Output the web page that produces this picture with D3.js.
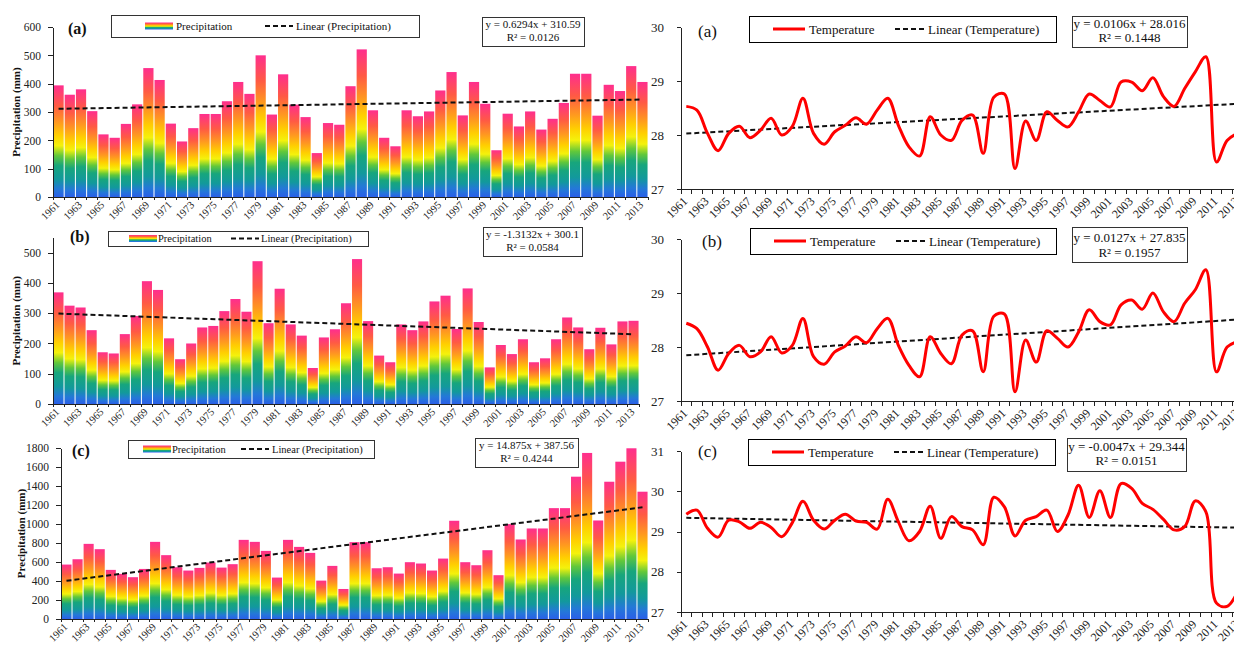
<!DOCTYPE html>
<meta charset="utf-8">
<style>
body { margin: 0; background: #fff; }
svg { display: block; background: #fff; }
text { font-family: "Liberation Serif", "Times New Roman", serif; fill: #111; }
.axis path, .axis line { stroke: #222; shape-rendering: crispEdges; }
.axis text { font-family: "Liberation Serif", "Times New Roman", serif; fill: #222; }
.ytitle { font-weight: bold; font-size: 11px; }
.box { fill: #fff; stroke: #333; stroke-width: 1; shape-rendering: crispEdges; }
.trend { fill: none; stroke: #111; stroke-width: 2; stroke-dasharray: 5,3; }
.temp { fill: none; stroke: #ff0000; stroke-width: 3; }
</style>
<svg width="1234" height="646"></svg>
<script src="https://d3js.org/d3.v7.min.js"></script>
<script>

var years = d3.range(1961, 2014);

// precipitation (mm)
var precipA = [394,361,380,303,221,209,258,327,455,413,259,196,243,293,293,338,406,364,500,291,
               433,326,282,155,261,255,391,521,306,209,179,306,285,302,376,441,288,406,329,165,
               294,249,302,238,276,332,435,435,287,396,374,462,406];
var precipB = [369,325,319,244,171,167,231,291,406,377,217,148,200,253,258,307,347,305,472,267,
               381,263,226,119,220,247,333,479,274,160,138,263,244,273,339,358,248,382,271,121,
               195,165,214,138,151,214,286,253,181,252,197,273,275];
var precipC = [573,629,791,735,517,475,440,527,812,672,545,510,538,594,541,577,833,812,717,436,
               833,759,696,404,559,316,809,809,534,545,478,598,584,510,636,1034,598,566,724,461,
               999,837,953,953,1167,1167,1498,1748,1037,1445,1656,1797,1340];

// temperature
var tempA = [28.53,28.46,28.03,27.71,28.03,28.16,27.95,28.09,28.31,28.00,28.16,28.68,28.03,27.83,28.06,28.18,28.32,28.20,28.46,28.68,
             28.18,27.78,27.61,28.34,28.00,27.90,28.27,28.37,27.66,28.70,28.76,27.38,28.26,27.90,28.43,28.27,28.15,28.43,28.76,28.64,
             28.52,28.98,28.98,28.82,29.06,28.71,28.53,28.86,29.17,29.45,27.50,27.90,28.03];
var tempB = [28.44,28.34,28.00,27.57,27.88,28.03,27.82,27.91,28.19,27.89,28.03,28.53,27.82,27.68,27.91,28.02,28.19,28.08,28.34,28.53,
             28.03,27.66,27.45,28.19,27.88,27.69,28.22,28.30,27.54,28.57,28.61,27.17,28.13,27.72,28.30,28.16,28.00,28.28,28.69,28.47,
             28.41,28.78,28.87,28.70,29.00,28.65,28.47,28.81,29.06,29.43,27.54,28.00,28.10];
var tempC = [29.43,29.53,29.08,28.86,29.28,29.24,29.08,29.23,29.10,28.87,29.22,29.75,29.28,29.06,29.28,29.43,29.26,29.23,29.06,29.80,
             29.24,28.77,29.00,29.63,28.83,29.37,29.12,29.04,28.67,29.85,29.61,28.89,29.28,29.37,29.53,29.00,29.41,30.15,29.35,30.01,
             29.35,30.19,30.07,29.70,29.55,29.30,29.04,29.12,29.76,29.49,27.22,27.14,27.51];

// linear trend lines (x = 1..53) as printed on the chart
var precipSlope = [0.6294, -1.3132, 14.875];
var precipIntercept = [310.59, 300.1, 387.56];
var precipEq = ["y = 0.6294x + 310.59", "y = -1.3132x + 300.1", "y = 14.875x + 387.56"];
var precipR2 = ["R\u00b2 = 0.0126", "R\u00b2 = 0.0584", "R\u00b2 = 0.4244"];

var tempSlope = [0.0106, 0.0127, -0.0047];
var tempIntercept = [28.016, 27.835, 29.344];
var tempEq = ["y = 0.0106x + 28.016", "y = 0.0127x + 27.835", "y = -0.0047x + 29.344"];
var tempR2 = ["R\u00b2 = 0.1448", "R\u00b2 = 0.1957", "R\u00b2 = 0.0151"];

var panelNames = ["(a)", "(b)", "(c)"];
var precipTicks = [[0,100,200,300,400,500,600], [0,100,200,300,400,500], [0,200,400,600,800,1000,1200,1400,1600,1800]];
var tempTicks = [[27,28,29,30], [27,28,29,30], [27,28,29,30,31]];

var svg = d3.select("svg");

var grad = svg.append("defs").append("linearGradient")
    .attr("id", "barGrad")
    .attr("x1", 0).attr("y1", 1).attr("x2", 0).attr("y2", 0);
[[0, "#2a5fe8"], [0.07, "#2478d8"], [0.16, "#12999c"], [0.28, "#17a67c"], [0.37, "#62c83a"],
 [0.46, "#f4f20c"], [0.55, "#ffd000"], [0.67, "#ff9820"], [0.82, "#ff5a44"], [1, "#ff2e8e"]]
  .forEach(function(s) { grad.append("stop").attr("offset", s[0]).attr("stop-color", s[1]); });

// layout of each panel
var barLayout = [
  {x0: 53, x1: 648, top: 27, bottom: 197, max: 600, titleX: 16, nameX: 68, nameY: 34,
   leg: {x: 111, y: 15, w: 308, h: 22, s1: 145, t1: 176, s2: 265, t2: 296, fs: 11},
   eq: {x: 482, y: 17, w: 102, h: 29, b1: 28, b2: 41}},
  {x0: 53, x1: 639, top: 237.6, bottom: 404, max: 550, titleX: 16, nameX: 70, nameY: 242,
   leg: {x: 108, y: 231, w: 260, h: 15, s1: 129, t1: 158, s2: 231, t2: 261, fs: 10.5},
   eq: {x: 483, y: 227, w: 99, h: 29, b1: 238, b2: 251}},
  {x0: 61, x1: 648, top: 448, bottom: 619, max: 1800, titleX: 21, nameX: 72, nameY: 456,
   leg: {x: 128, y: 440, w: 246, h: 18, s1: 143, t1: 172, s2: 241, t2: 272, fs: 10.5},
   eq: {x: 475, y: 438, w: 103, h: 29, b1: 449, b2: 462}}
];
var tempLayout = [
  {x0: 681, x1: 1243, top: 27, bottom: 189, min: 27, max: 30, nameX: 698, nameY: 37,
   leg: {x: 749, y: 16, w: 307, h: 26, s1: 773, t1: 809, s2: 895, t2: 928, fs: 13},
   eq: {x: 1072, y: 16, w: 115, h: 31, b1: 28, b2: 42}},
  {x0: 681, x1: 1243, top: 239, bottom: 401, min: 27, max: 30, nameX: 702, nameY: 247,
   leg: {x: 750, y: 228, w: 306, h: 26, s1: 774, t1: 810, s2: 896, t2: 929, fs: 13},
   eq: {x: 1072, y: 227, w: 115, h: 35, b1: 242, b2: 257}},
  {x0: 681, x1: 1243, top: 451, bottom: 612, min: 27, max: 31, nameX: 698, nameY: 457,
   leg: {x: 748, y: 439, w: 307, h: 26, s1: 772, t1: 808, s2: 894, t2: 927, fs: 13},
   eq: {x: 1067, y: 438, w: 119, h: 33, b1: 451, b2: 465}}
];

var oddYears = years.filter(function(d, i) { return i % 2 === 0; });

function eqBox(e, l1, l2, fs) {
  svg.append("rect").attr("class", "box")
      .attr("x", e.x + 0.5).attr("y", e.y + 0.5).attr("width", e.w).attr("height", e.h);
  svg.append("text").attr("x", e.x + e.w / 2).attr("y", e.b1)
      .attr("text-anchor", "middle").style("font-size", fs + "px").text(l1);
  svg.append("text").attr("x", e.x + e.w / 2).attr("y", e.b2)
      .attr("text-anchor", "middle").style("font-size", fs + "px").text(l2);
}

function xLabels(g, fs, off) {
  g.selectAll(".tick text")
      .attr("y", 0).attr("x", 0).attr("dy", "0.35em")
      .attr("text-anchor", "end")
      .attr("transform", "translate(-1," + off + ") rotate(-45)")
      .style("font-size", fs + "px");
}

[precipA, precipB, precipC].forEach(function(values, k) {
  var L = barLayout[k];
  var x = d3.scaleBand().domain(years).range([L.x0, L.x1]).paddingInner(0.09).paddingOuter(0.04);
  var y = d3.scaleLinear().domain([0, L.max]).range([L.bottom, L.top]);
  var step = (L.x1 - L.x0) / years.length;

  svg.append("g").selectAll("rect")
      .data(values)
    .join("rect")
      .attr("x", function(d, i) { return x(years[i]); })
      .attr("width", x.bandwidth())
      .attr("y", function(d) { return y(d); })
      .attr("height", function(d) { return y(0) - y(d); })
      .attr("fill", "url(#barGrad)");

  var t0 = precipIntercept[k] + precipSlope[k] * 1,
      t1 = precipIntercept[k] + precipSlope[k] * years.length;
  svg.append("line").attr("class", "trend")
      .attr("x1", x(years[0]) + x.bandwidth() / 2).attr("y1", y(t0))
      .attr("x2", x(years[years.length - 1]) + x.bandwidth() / 2).attr("y2", y(t1));

  svg.append("g").attr("class", "axis")
      .attr("transform", "translate(" + L.x0 + ",0)")
      .call(d3.axisLeft(y).tickValues(precipTicks[k]).tickFormat(d3.format("d"))
        .tickSize(5).tickPadding(7).tickSizeOuter(0))
      .selectAll("text").style("font-size", "11.5px");

  var gx = svg.append("g").attr("class", "axis")
      .attr("transform", "translate(0," + L.bottom + ")")
      .call(d3.axisBottom(x).tickValues(oddYears).tickSize(0).tickSizeOuter(0));
  gx.select(".domain").attr("d", "M" + L.x0 + ",0.5H" + L.x1);
  xLabels(gx, 10.5, 6);
  gx.selectAll(".tickmark").data(d3.range(years.length + 1)).join("line")
      .attr("class", "tickmark")
      .attr("x1", function(i) { return L.x0 + i * step; })
      .attr("x2", function(i) { return L.x0 + i * step; })
      .attr("y1", 0).attr("y2", 3);

  svg.append("text").attr("class", "ytitle")
      .attr("transform", "translate(" + L.titleX + "," + (L.top + L.bottom) / 2 + ") rotate(-90)")
      .attr("text-anchor", "middle").attr("dy", "0.35em")
      .text("Precipitation (mm)");

  svg.append("text").attr("x", L.nameX).attr("y", L.nameY)
      .style("font-size", "16px").style("font-weight", "bold").text(panelNames[k]);

  var g = L.leg, cy = g.y + g.h / 2;
  svg.append("rect").attr("class", "box")
      .attr("x", g.x + 0.5).attr("y", g.y + 0.5).attr("width", g.w).attr("height", g.h);
  svg.append("rect").attr("x", g.s1).attr("y", cy - 3.5).attr("width", 28).attr("height", 7)
      .attr("fill", "url(#barGrad)");
  svg.append("text").attr("x", g.t1).attr("y", cy).attr("dy", "0.35em")
      .style("font-size", g.fs + "px").text("Precipitation");
  svg.append("line").attr("class", "trend")
      .attr("x1", g.s2).attr("x2", g.s2 + 28).attr("y1", cy).attr("y2", cy);
  svg.append("text").attr("x", g.t2).attr("y", cy).attr("dy", "0.35em")
      .style("font-size", g.fs + "px").text("Linear (Precipitation)");

  eqBox(L.eq, precipEq[k], precipR2[k], 11);
});

[tempA, tempB, tempC].forEach(function(values, k) {
  var L = tempLayout[k];
  var x = d3.scaleBand().domain(years).range([L.x0, L.x1]);
  var y = d3.scaleLinear().domain([L.min, L.max]).range([L.bottom, L.top]);
  var cx = function(i) { return x(years[i]) + x.bandwidth() / 2; };

  svg.append("g").attr("class", "axis")
      .attr("transform", "translate(" + L.x0 + ",0)")
      .call(d3.axisLeft(y).tickValues(tempTicks[k]).tickFormat(d3.format("d"))
        .tickSize(4).tickPadding(13).tickSizeOuter(0))
      .selectAll("text").style("font-size", "13px");

  var gx = svg.append("g").attr("class", "axis")
      .attr("transform", "translate(0," + L.bottom + ")")
      .call(d3.axisBottom(x).tickValues(oddYears).tickSize(0).tickSizeOuter(0));
  gx.select(".domain").attr("d", "M" + L.x0 + ",0.5H" + L.x1);
  xLabels(gx, 12, 10);
  gx.selectAll(".tickmark").data(d3.range(years.length + 1)).join("line")
      .attr("class", "tickmark")
      .attr("x1", function(i) { return L.x0 + i * x.step(); })
      .attr("x2", function(i) { return L.x0 + i * x.step(); })
      .attr("y1", 0).attr("y2", 5);

  var t0 = tempIntercept[k] + tempSlope[k] * 1,
      t1 = tempIntercept[k] + tempSlope[k] * years.length;
  svg.append("line").attr("class", "trend")
      .attr("x1", cx(0)).attr("y1", y(t0))
      .attr("x2", cx(years.length - 1)).attr("y2", y(t1));

  svg.append("path").attr("class", "temp")
      .attr("d", d3.line()
        .x(function(d, i) { return cx(i); })
        .y(function(d) { return y(d); })
        .curve(d3.curveCatmullRom.alpha(0.5))(values));

  svg.append("text").attr("x", L.nameX).attr("y", L.nameY)
      .style("font-size", "17px").text(panelNames[k]);

  var g = L.leg, cy = g.y + g.h / 2;
  svg.append("rect").attr("class", "box").style("stroke", "#000")
      .attr("x", g.x + 0.5).attr("y", g.y + 0.5).attr("width", g.w).attr("height", g.h);
  svg.append("line").attr("stroke", "#ff0000").attr("stroke-width", 3)
      .attr("x1", g.s1).attr("x2", g.s1 + 32).attr("y1", cy).attr("y2", cy);
  svg.append("text").attr("x", g.t1).attr("y", cy).attr("dy", "0.35em")
      .style("font-size", g.fs + "px").text("Temperature");
  svg.append("line").attr("class", "trend")
      .attr("x1", g.s2).attr("x2", g.s2 + 30).attr("y1", cy).attr("y2", cy);
  svg.append("text").attr("x", g.t2).attr("y", cy).attr("dy", "0.35em")
      .style("font-size", g.fs + "px").text("Linear (Temperature)");

  eqBox(L.eq, tempEq[k], tempR2[k], 13);
});

</script>
